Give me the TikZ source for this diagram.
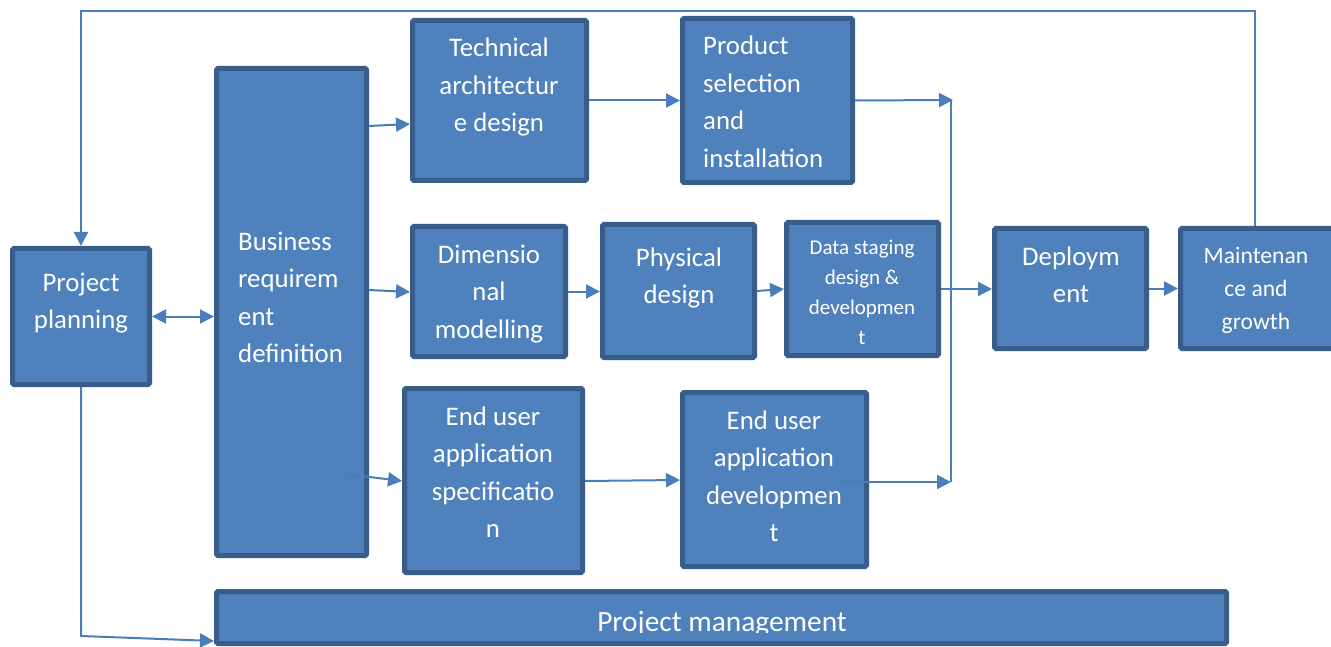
\documentclass[tikz,border=0pt]{standalone}
\usepackage{fontspec}
\setmainfont{Carlito}
\usetikzlibrary{arrows.meta,calc}
\definecolor{boxfill}{HTML}{4F81BD}
\definecolor{boxedge}{HTML}{385D8A}
\definecolor{linecol}{HTML}{4A7EBB}
\tikzset{
  box/.style={draw=boxedge, fill=boxfill, line width=5pt, rounded corners=1.5pt, inner sep=0pt},
  txt/.style={text=white, inner sep=0pt, font=\fontsize{26.8}{37.5}\selectfont},
  txtc/.style={txt, align=center, anchor=base},
  txtl/.style={txt, align=left, anchor=base west},
  conn/.style={draw=linecol, line width=2pt},
  arr/.style={conn, -{Triangle[length=14pt,width=14pt]}},
  darr/.style={conn, {Triangle[length=14pt,width=14pt]}-{Triangle[length=14pt,width=14pt]}}
}
\begin{document}
\begin{tikzpicture}[x=1pt,y=-1pt]
\clip (0,0) rectangle (1331,647);
\fill[white] (0,0) rectangle (1331,647);
% boxes
\node[box, minimum width=137pt, minimum height=136pt] (pp) at (81,316.5) {};
\node[box, minimum width=150pt, minimum height=487pt] (brd) at (291.5,312) {};
\node[box, minimum width=174pt, minimum height=160pt] (tad) at (499.5,100.5) {};
\node[box, minimum width=170pt, minimum height=164pt] (psi) at (767.5,100.5) {};
\node[box, minimum width=153pt, minimum height=130pt] (dm) at (489,291.5) {};
\node[box, minimum width=152pt, minimum height=133pt] (pd) at (678.5,291) {};
\node[box, minimum width=152pt, minimum height=133pt] (ds) at (862.5,289) {};
\node[box, minimum width=152pt, minimum height=120pt] (dep) at (1070.5,288.5) {};
\node[box, minimum width=153pt, minimum height=120pt] (mg) at (1257,288.5) {};
\node[box, minimum width=178pt, minimum height=184pt] (eus) at (493.5,480.5) {};
\node[box, minimum width=184pt, minimum height=174pt] (eud) at (774.5,479.5) {};
\node[box, minimum width=1010pt, minimum height=52pt] (pm) at (721.5,617.5) {};
% texts (anchored at the baseline of the last line)
\node[txtc] (pp-t) at (81,328.5) {Project\\planning};
\node[txtl] (brd-t) at (238,362.5) {Business\\requirem\\ent\\definition};
\node[txtc] (tad-t) at (499,132) {Technical\\architectur\\e design};
\node[txtl] (psi-t) at (703,167.5) {Product\\selection\\and\\installation};
\node[txtc] (dm-t) at (489,338) {Dimensio\\nal\\modelling};
\node[txtc] (pd-t) at (679,303.5) {Physical\\design};
\node[txtc, font=\fontsize{21}{30}\selectfont] (ds-t) at (862,344) {Data staging\\design \&\\developmen\\t};
\node[txtc] (dep-t) at (1071,302.5) {Deploym\\ent};
\node[txtc, font=\fontsize{23.6}{33}\selectfont] (mg-t) at (1256,329) {Maintenan\\ce and\\growth};
\node[txtc] (eus-t) at (493,537.5) {End user\\application\\specificatio\\n};
\node[txtc] (eud-t) at (774,541.5) {End user\\application\\developmen\\t};
\begin{scope}
\clip (214,589) rectangle (1229,632);
\node[txtc, font=\fontsize{29.4}{33}\selectfont] (pm-t) at (722,631) {Project management};
\end{scope}
% junction coordinates
\coordinate (bt) at (953,100);
\coordinate (bb) at (951,482);
% connectors
\draw[arr] ($(mg.north)+(-2,0)$) |- ($(pp.north)+(0,-235)$) -- (pp.north);
\draw[darr] (pp.east) -- (pp.east -| brd.west);
\draw[arr] (pp.south) -- ++(0,249) -- ($(pm.south west)+(0,-5)$);
\draw[arr] ($(brd.north east)+(0,60)$) -- ($(tad.north west)+(0,106)$);
\draw[arr] ($(brd.north east)+(0,224)$) -- ($(dm.north west)+(0,68)$);
\draw[arr] ($(brd.north east)+(-24,408)$) -- ($(eus.north west)+(0,95)$);
\draw[arr] (tad.east) -- (psi.west);
\draw[arr] (dm.east) -- (dm.east -| pd.west);
\draw[arr] (pd.east) -- (ds.west);
\draw[arr] (psi.east) -- (bt);
\draw[conn] ($(bt)+(-2,0)$) -- (bb);
\draw[arr] (ds.east) -- (ds.east -| dep.west);
\draw[arr] ($(eus.north east)+(0,95)$) -- ($(eud.north west)+(0,90)$);
\draw[arr] ($(eud.north east)+(-29,92)$) -- (bb);
\draw[arr] (dep.east) -- (mg.west);
\end{tikzpicture}
\end{document}
